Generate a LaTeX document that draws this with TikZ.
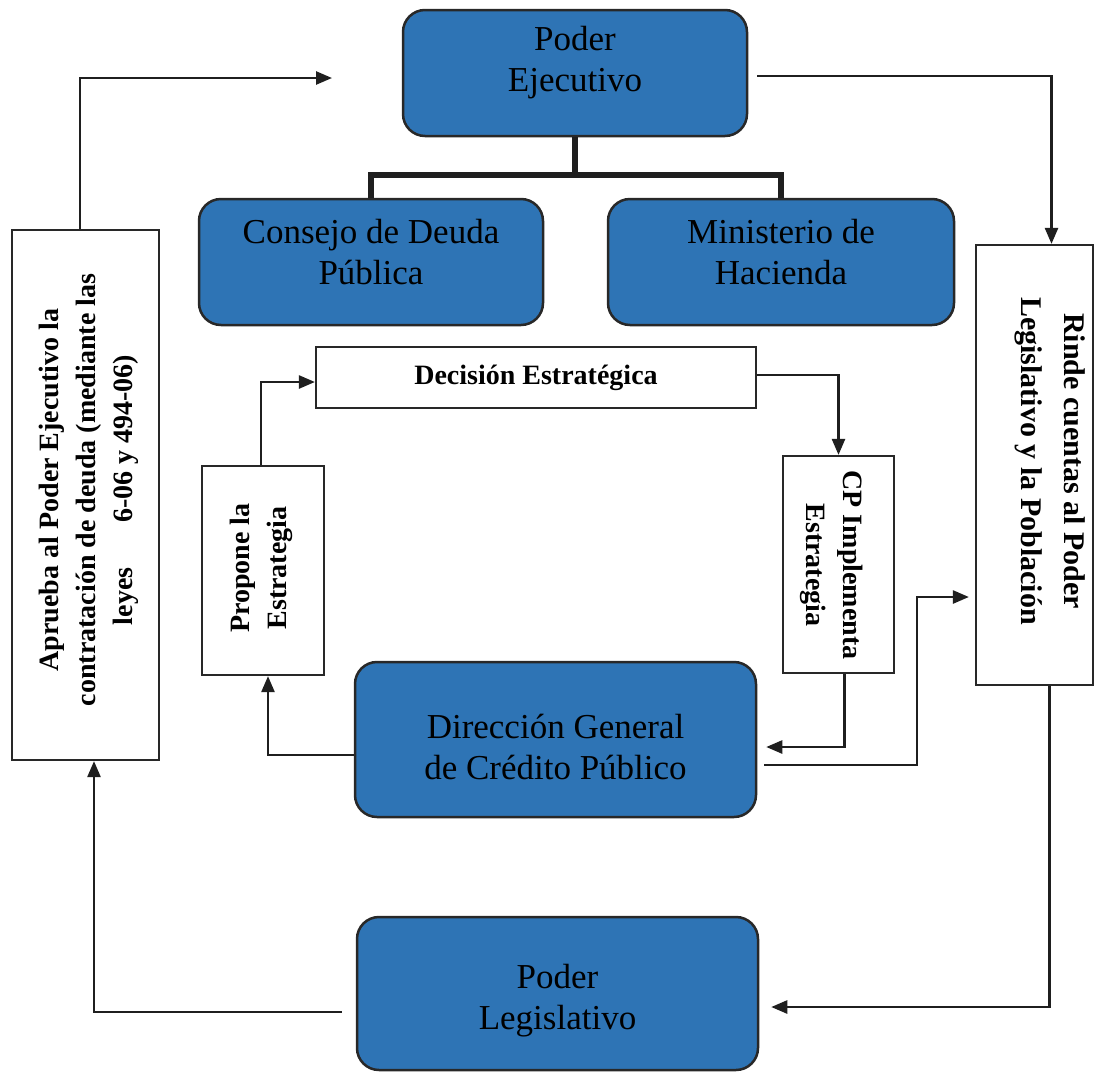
\documentclass[tikz,border=0pt]{standalone}
\usepackage{fontspec}
\setmainfont{Liberation Serif}
\usetikzlibrary{arrows.meta}
\definecolor{boxblue}{RGB}{46,116,181}
\definecolor{framegray}{RGB}{40,40,40}
\begin{document}
\begin{tikzpicture}[x=1pt,y=-1pt,
  bluebox/.style={draw=framegray, line width=2.5pt, fill=boxblue, rounded corners=22pt, inner sep=0pt},
  whitebox/.style={draw=framegray, line width=2.2pt, fill=white, inner sep=0pt},
  bluetext/.style={align=center, font=\fontsize{35}{41}\selectfont, text=black, inner sep=0pt},
  boldtext/.style={align=center, font=\fontsize{28}{37}\selectfont\bfseries, inner sep=0pt},
  conn/.style={draw=black!88, line width=2.5pt, -{Triangle[length=16pt,width=13pt]}},
  tree/.style={draw=black!88, line width=6pt, line join=miter},
]
\useasboundingbox[fill=white] (0,0) rectangle (1095,1074);

% blue rounded boxes
\node[bluebox, minimum width=344pt, minimum height=126pt] (pe)   at (575,73) {};
\node[bluebox, minimum width=344pt, minimum height=126pt] (cdp)  at (371,262) {};
\node[bluebox, minimum width=346pt, minimum height=126pt] (mh)   at (781,262) {};
\node[bluebox, minimum width=401pt, minimum height=155pt] (dgcp) at (555.5,739.5) {};
\node[bluebox, minimum width=401pt, minimum height=153pt] (pl)   at (557.5,993.5) {};

% white rectangular boxes
\node[whitebox, minimum width=147pt, minimum height=530pt] (lft)  at (85.5,495) {};
\node[whitebox, minimum width=117pt, minimum height=440pt] (rgt)  at (1034.5,465) {};
\node[whitebox, minimum width=122pt, minimum height=209pt] (prop) at (263,570.5) {};
\node[whitebox, minimum width=111pt, minimum height=217pt] (cp)   at (838.5,564.5) {};
\node[whitebox, minimum width=440pt, minimum height=61pt,
      font=\fontsize{28}{37}\selectfont\bfseries] (dec) at (536,377.5) {Decisión Estratégica};

% labels of the blue boxes
\node[bluetext] (peT)   at (575,63)     {Poder\\Ejecutivo};
\node[bluetext] (cdpT)  at (371,252)    {Consejo de Deuda\\Pública};
\node[bluetext] (mhT)   at (781,252)    {Ministerio de\\Hacienda};
\node[bluetext] (dgcpT) at (555.5,747)  {Dirección General\\de Crédito Público};
\node[bluetext] (plT)   at (557.5,1001) {Poder\\Legislativo};

% vertical labels
\node[boldtext, rotate=90] (lftT) at (89,490)
  {Aprueba al Poder Ejecutivo la\\contratación de deuda (mediante las\\leyes\hspace*{1.6em}6-06 y 494-06)};
\node[boldtext, rotate=90] (propT) at (261,568) {Propone la\\Estrategia};
\node[boldtext, rotate=-90] (cpT) at (832,565) {CP Implementa\\Estrategia};
\node[boldtext, rotate=-90, font=\fontsize{30}{43}\selectfont\bfseries] (rgtT) at (1050,461)
  {Rinde cuentas al Poder\\Legislativo y la Población};

% hierarchy under the executive
\coordinate (tj) at (575,175);
\draw[tree] (pe.south) -- (tj);
\draw[tree] (cdp.north) |- (tj) -| (mh.north);

% outer cycle
\coordinate (peIn) at (332,78);
\draw[conn] ([xshift=-5.5pt]lft.north) |- (peIn);
\draw[conn, shorten <=9pt] ([yshift=-3pt]pe.east) -| ([xshift=17pt]rgt.north);
\draw[conn, shorten >=12pt] ([xshift=15pt]rgt.south) |- ([yshift=-13.5pt]pl.east);
\draw[conn, shorten <=14pt] ([yshift=-18.5pt]pl.west) -| ([xshift=8.5pt]lft.south);

% inner cycle
\draw[conn] ([yshift=-15.5pt]dgcp.west) -| ([xshift=5pt]prop.south);
\draw[conn] ([xshift=-2pt]prop.north) |- ([yshift=-4.5pt]dec.west);
\draw[conn] ([yshift=2.5pt]dec.east) -| (cp.north);
\draw[conn, shorten >=9pt] ([xshift=6pt]cp.south) |- ([yshift=-7.5pt]dgcp.east);

% report to the legislature and the public
\coordinate (j9) at (917,597);
\draw[conn, shorten <=7pt, shorten >=6pt] ([yshift=-25.5pt]dgcp.east) -| (j9) -- (j9 -| rgt.west);
\end{tikzpicture}
\end{document}
